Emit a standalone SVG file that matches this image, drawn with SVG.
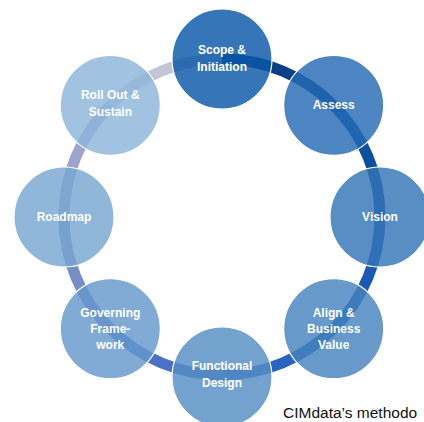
<svg xmlns="http://www.w3.org/2000/svg" width="424" height="422" viewBox="0 0 424 422">
<style>
.ring{fill:none;stroke-width:11}
.node circle{stroke:#fff;stroke-width:1.2;fill-opacity:0.82}
.node text{fill:#fff;font-family:"Liberation Sans",Arial,sans-serif;font-weight:bold;font-size:12px;text-anchor:middle}
.cap{fill:#111;font-family:"Liberation Sans",Arial,sans-serif;font-size:15.5px}
</style>
<rect width="424" height="422" fill="#fff"/>
<g id="connectors">
<path class="ring" stroke="#0B3F86" d="M222,59 A158,158 0 0 1 333.72,105.28"/>
<path class="ring" stroke="#0D4E9E" d="M333.72,105.28 A158,158 0 0 1 380,217"/>
<path class="ring" stroke="#1A5AB6" d="M380,217 A158,158 0 0 1 333.72,328.72"/>
<path class="ring" stroke="#2A64C2" d="M333.72,328.72 A158,158 0 0 1 222,375"/>
<path class="ring" stroke="#4B70C6" d="M222,375 A158,158 0 0 1 110.28,328.72"/>
<path class="ring" stroke="#788CC6" d="M110.28,328.72 A158,158 0 0 1 64,217"/>
<path class="ring" stroke="#9CA5CB" d="M64,217 A158,158 0 0 1 110.28,105.28"/>
<path class="ring" stroke="#C2C5D4" d="M110.28,105.28 A158,158 0 0 1 222,59"/>
</g>
<g id="scope" class="node"><circle cx="222" cy="59" r="50" fill="#0A58A8"/><text x="222" y="54">Scope &amp;</text><text x="222" y="71">Initiation</text></g>
<g id="assess" class="node"><circle cx="333.7" cy="105.3" r="50" fill="#246AB4"/><text x="333.7" y="109">Assess</text></g>
<g id="vision" class="node"><circle cx="380" cy="217" r="50" fill="#3475B7"/><text x="380" y="221">Vision</text></g>
<g id="align" class="node"><circle cx="333.7" cy="328.7" r="50" fill="#4682BE"/><text x="333.7" y="317">Align &amp;</text><text x="333.7" y="333">Business</text><text x="333.7" y="349">Value</text></g>
<g id="functional" class="node"><circle cx="222" cy="377" r="50" fill="#558EC4"/><text x="222" y="370">Functional</text><text x="222" y="387">Design</text></g>
<g id="governing" class="node"><circle cx="110.3" cy="328.7" r="50" fill="#6599CA"/><text x="110.3" y="317">Governing</text><text x="110.3" y="333">Frame-</text><text x="110.3" y="349">work</text></g>
<g id="roadmap" class="node"><circle cx="64" cy="217" r="50" fill="#77A6D2"/><text x="64" y="221">Roadmap</text></g>
<g id="rollout" class="node"><circle cx="110.3" cy="105.3" r="50" fill="#8EB5DA"/><text x="110.3" y="99">Roll Out &amp;</text><text x="110.3" y="116">Sustain</text></g>
<text class="cap" x="283" y="418">CIMdata’s methodo</text>
</svg>
